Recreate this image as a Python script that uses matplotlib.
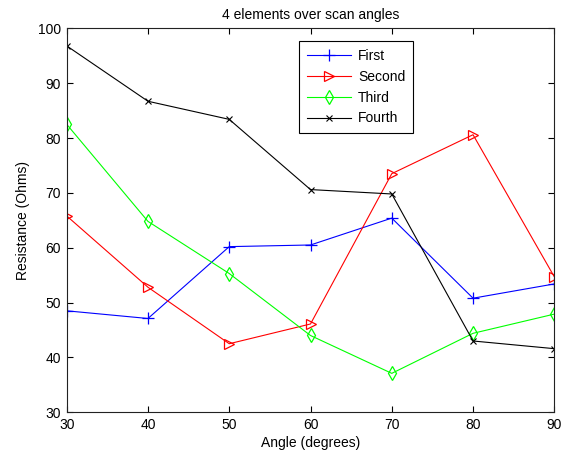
import matplotlib
matplotlib.use("Agg")
import matplotlib.pyplot as plt

plt.rcParams['font.family'] = ['Liberation Sans', 'DejaVu Sans']
plt.rcParams['font.size'] = 10

angles = [30, 40, 50, 60, 70, 80, 90]
first = [48.5, 47.1, 60.2, 60.5, 65.4, 50.8, 53.4]
second = [65.8, 52.8, 42.5, 46.1, 73.5, 80.6, 54.7]
third = [82.5, 64.8, 55.3, 44.0, 37.1, 44.4, 47.9]
fourth = [96.8, 86.7, 83.4, 70.6, 69.8, 43.0, 41.6]
labels = ['First', 'Second', 'Third', 'Fourth']
title = '4 elements over scan angles'
xlabel = 'Angle (degrees)'
ylabel = 'Resistance (Ohms)'
xticks = [30, 40, 50, 60, 70, 80, 90]
yticks = [30, 40, 50, 60, 70, 80, 90, 100]

fig = plt.figure(figsize=(5.63, 4.57), dpi=100)
ax = fig.add_axes([66.7/563, 1 - 412.3/457, 487.6/563, 384/457])

lw = 0.8
ax.plot(angles, first, color='#0000ff', marker='+', markersize=8, lw=lw, mew=0.9, label=labels[0])
ax.plot(angles, second, color='#ff0000', marker='>', markersize=7, lw=lw, mew=0.9,
        markerfacecolor='none', label=labels[1])
ax.plot(angles, third, color='#00ff00', marker='d', markersize=7, lw=lw, mew=0.9,
        markerfacecolor='none', label=labels[2])
ax.plot(angles, fourth, color='#000000', marker='x', markersize=4.5, lw=lw, mew=0.8, label=labels[3])

ax.set_xlim(30, 90)
ax.set_ylim(30, 100)
ax.set_xticks(xticks)
ax.set_yticks(yticks)
ax.tick_params(direction='in', length=4, width=0.8, top=True, right=True, labelsize=10, pad=4)
for s in ax.spines.values():
    s.set_linewidth(0.8)
    s.set_color('#222222')

ax.set_title(title, fontsize=10, pad=7)
ax.set_xlabel(xlabel, fontsize=10, labelpad=3)
ax.set_ylabel(ylabel, fontsize=10, labelpad=6)

leg = ax.legend(loc='upper left', bbox_to_anchor=((299 - 66.7)/487.6, (412.3 - 41)/384),
                borderaxespad=0, fancybox=False, framealpha=1, edgecolor='black',
                handlelength=3.2, handletextpad=0.5, labelspacing=0.5, borderpad=0.55,
                numpoints=1, fontsize=10)
leg.get_frame().set_linewidth(0.8)

fig.savefig('out.png', dpi=100)
